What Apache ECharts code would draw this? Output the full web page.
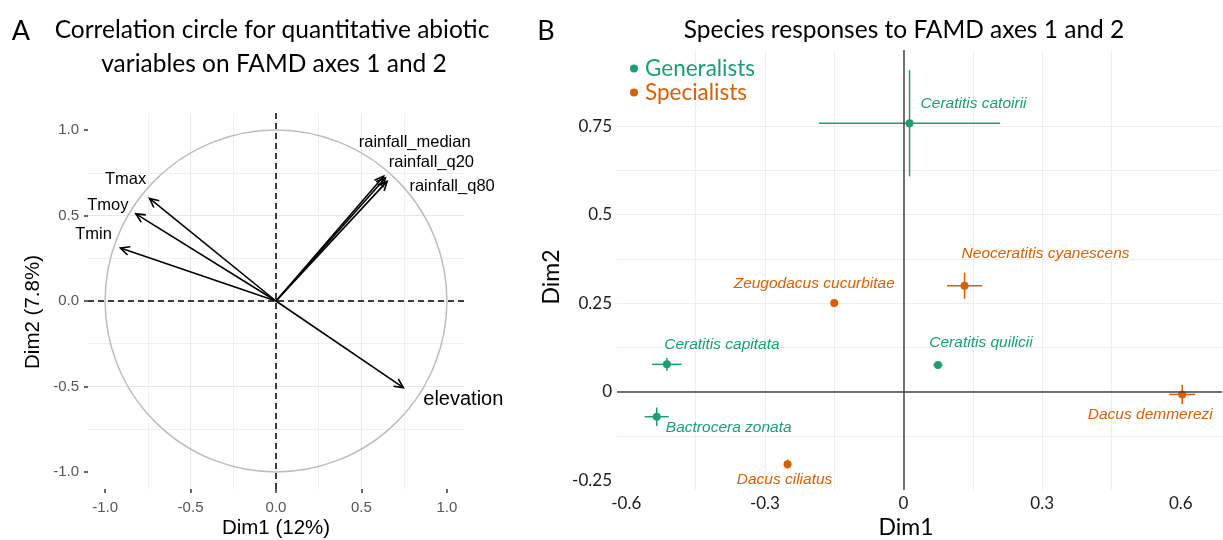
<!DOCTYPE html>
<html><head><meta charset="utf-8">
<script src="https://cdn.jsdelivr.net/npm/echarts@6/dist/echarts.min.js"></script>
<style>html,body{margin:0;padding:0;background:#fff}#c{width:1223px;height:540px}</style>
</head><body><div id="c"></div>
<script>
// ---------- Panel A: correlation circle ----------
const varNames = ['Tmax', 'Tmoy', 'Tmin', 'rainfall_median', 'rainfall_q20', 'rainfall_q80', 'elevation'];
const varDim1  = [-0.74, -0.82, -0.91, 0.63, 0.64, 0.65, 0.745];
const varDim2  = [0.60, 0.51, 0.31, 0.73, 0.72, 0.70, -0.507];
const ticksA   = [-1, -0.5, 0, 0.5, 1];

// ---------- Panel B: species responses ----------
const species = ['Ceratitis catoirii', 'Neoceratitis cyanescens', 'Zeugodacus cucurbitae', 'Ceratitis capitata',
                 'Bactrocera zonata', 'Dacus ciliatus', 'Ceratitis quilicii', 'Dacus demmerezi'];
const groups  = ['Generalists', 'Specialists', 'Specialists', 'Generalists',
                 'Generalists', 'Specialists', 'Generalists', 'Specialists'];
const dim1    = [0.013, 0.132, -0.150, -0.512, -0.534, -0.251, 0.0745, 0.603];
const dim2    = [0.758, 0.299, 0.250, 0.077, -0.071, -0.205, 0.075, -0.008];
const dim1Err = [0.196, 0.038, 0.004, 0.032, 0.026, 0.005, 0.010, 0.028];
const dim2Err = [0.150, 0.037, 0.004, 0.018, 0.026, 0.013, 0.003, 0.027];
const xTickLabelsB = [-0.6, -0.3, 0, 0.3, 0.6];
const yTickLabelsB = [-0.25, 0, 0.25, 0.5, 0.75];
const xGridB = [-0.6, -0.45, -0.3, -0.15, 0, 0.15, 0.3, 0.45, 0.6];
const yGridB = [-0.25, -0.125, 0, 0.125, 0.25, 0.375, 0.5, 0.625, 0.75, 0.875];

// ---------- styling / layout (not data) ----------
const GREEN = '#1b9e77', ORANGE = '#d95f02';
const groupColor = { Generalists: GREEN, Specialists: ORANGE };
const arrowLabelOffset = {
  Tmax: [-24, -19], Tmoy: [-28, -8], Tmin: [-27, -14],
  rainfall_median: [31, -34], rainfall_q20: [46, -15], rainfall_q80: [65, 5], elevation: [60, 12]
};
const arrowLabelSize = { elevation: 20 };
const speciesLabelOffset = {
  'Ceratitis catoirii': [64, -20], 'Neoceratitis cyanescens': [81, -32], 'Zeugodacus cucurbitae': [-20, -19],
  'Ceratitis capitata': [55, -20], 'Bactrocera zonata': [72, 11], 'Dacus ciliatus': [-3, 16],
  'Ceratitis quilicii': [43, -22], 'Dacus demmerezi': [-32, 20]
};
const TITLE_FONT = 'Lato, "Open Sans", sans-serif';
const ARIAL = '"Liberation Sans", Arial, sans-serif';

const chart = echarts.init(document.getElementById('c'), null, { renderer: 'canvas' });

function scatterData(g) {
  const out = [];
  species.forEach((s, i) => {
    if (groups[i] !== g) return;
    out.push({ name: s, value: [dim1[i], dim2[i]], label: { offset: speciesLabelOffset[s] } });
  });
  return out;
}

const axisA = (isX) => ({
  gridIndex: 0, type: 'value', min: -1.1, max: 1.1, splitNumber: 4,
  axisLine: { show: false, onZero: false },
  axisTick: { show: true, customValues: ticksA, length: 4, lineStyle: { color: '#333', width: 1.5 } },
  axisLabel: { customValues: ticksA, formatter: v => v.toFixed(1), color: '#555', fontSize: 15, fontFamily: ARIAL, margin: isX ? 11 : 9 },
  splitLine: { show: true, showMinLine: false, showMaxLine: false, lineStyle: { color: '#e6e6e6', width: 1 } },
  minorTick: { show: false, splitNumber: 2 },
  minorSplitLine: { show: true, lineStyle: { color: '#f0f0f0', width: 1 } }
});

const axisTitle = (text, x, y, size, font, rot) => ({
  type: 'text', x: x, y: y, rotation: rot || 0,
  style: { text: text, x: 0, y: 0, align: 'center', verticalAlign: 'middle', font: size + 'px ' + font, fill: '#000' }
});

const option = {
  animation: false,
  backgroundColor: '#fff',
  graphic: [
    { type: 'text', style: { text: 'A', x: 21, y: 31, align: 'center', verticalAlign: 'middle', font: '27px ' + TITLE_FONT, fill: '#000' } },
    { type: 'text', style: { text: 'Correlation circle for quantitative abiotic', x: 272, y: 30, align: 'center', verticalAlign: 'middle', font: '24.5px ' + TITLE_FONT, fill: '#000' } },
    { type: 'text', style: { text: 'variables on FAMD axes 1 and 2', x: 274, y: 64, align: 'center', verticalAlign: 'middle', font: '24.5px ' + TITLE_FONT, fill: '#000' } },
    { type: 'text', style: { text: 'B', x: 546, y: 31, align: 'center', verticalAlign: 'middle', font: '27px ' + TITLE_FONT, fill: '#000' } },
    { type: 'text', style: { text: 'Species responses to FAMD axes 1 and 2', x: 904, y: 30, align: 'center', verticalAlign: 'middle', font: '24.5px ' + TITLE_FONT, fill: '#000' } },
    axisTitle('Dim1 (12%)', 276, 528, 20.5, ARIAL),
    axisTitle('Dim2 (7.8%)', 33, 312, 20.5, ARIAL, Math.PI / 2),
    axisTitle('Dim1', 906, 528, 23, TITLE_FONT),
    axisTitle('Dim2', 552, 277, 23, TITLE_FONT, Math.PI / 2)
  ],
  legend: {
    data: [{ name: 'Generalists', textStyle: { color: GREEN } }, { name: 'Specialists', textStyle: { color: ORANGE } }],
    orient: 'vertical', left: 625, top: 52, icon: 'circle', itemWidth: 8, itemHeight: 8, itemGap: 1,
    textStyle: { fontSize: 22.5, fontFamily: TITLE_FONT, lineHeight: 21, padding: [0, 0, 0, 2] },
    selectedMode: false
  },
  grid: [
    { left: 88, top: 113, width: 376, height: 376 },
    { left: 617, top: 50, width: 605, height: 440 }
  ],
  xAxis: [
    axisA(true),
    {
      gridIndex: 1, type: 'value', min: -0.62, max: 0.689,
      axisLine: { show: false, onZero: false },
      axisTick: { show: false, customValues: xGridB },
      axisLabel: { customValues: xTickLabelsB, formatter: v => (v === 0 ? '0' : String(v)), color: '#1a1a1a', fontSize: 17, fontFamily: TITLE_FONT, margin: 5 },
      splitLine: { show: true, showMinLine: false, showMaxLine: false, lineStyle: { color: '#eeeeee', width: 1 } }
    }
  ],
  yAxis: [
    axisA(false),
    {
      gridIndex: 1, type: 'value', min: -0.278, max: 0.965,
      axisLine: { show: false, onZero: false },
      axisTick: { show: false, customValues: yGridB },
      axisLabel: { customValues: yTickLabelsB, formatter: v => (v === 0 ? '0' : String(v)), color: '#1a1a1a', fontSize: 17, fontFamily: TITLE_FONT, margin: 5 },
      splitLine: { show: true, showMinLine: false, showMaxLine: false, lineStyle: { color: '#eeeeee', width: 1 } }
    }
  ],
  series: [
    // unit circle + dashed zero lines
    {
      type: 'custom', xAxisIndex: 0, yAxisIndex: 0, silent: true, clip: false,
      data: [[0, 0, 1]],
      renderItem: (params, api) => {
        const c = api.coord([api.value(0), api.value(1)]);
        const r = api.size([api.value(2), 0])[0];
        return { type: 'circle', shape: { cx: c[0], cy: c[1], r: r }, style: { stroke: '#bdbdbd', fill: null, lineWidth: 1.5 } };
      },
      markLine: {
        silent: true, symbol: ['none', 'none'], label: { show: false },
        lineStyle: { color: '#000', type: [6, 4], width: 1.5 },
        data: [{ xAxis: 0 }, { yAxis: 0 }]
      }
    },
    // arrows
    {
      type: 'custom', xAxisIndex: 0, yAxisIndex: 0, silent: true, clip: false, z: 5,
      data: varNames.map((n, i) => ({ name: n, value: [varDim1[i], varDim2[i]] })),
      renderItem: (params, api) => {
        const name = varNames[params.dataIndex];
        const p0 = api.coord([0, 0]);
        const p1 = api.coord([api.value(0), api.value(1)]);
        const ang = Math.atan2(p1[1] - p0[1], p1[0] - p0[0]);
        const L = 10, a = Math.PI / 7;
        const h1 = [p1[0] - L * Math.cos(ang - a), p1[1] - L * Math.sin(ang - a)];
        const h2 = [p1[0] - L * Math.cos(ang + a), p1[1] - L * Math.sin(ang + a)];
        const off = arrowLabelOffset[name];
        const fs = arrowLabelSize[name] || 16.5;
        return {
          type: 'group', children: [
            { type: 'line', shape: { x1: p0[0], y1: p0[1], x2: p1[0], y2: p1[1] }, style: { stroke: '#000', lineWidth: 1.6 } },
            { type: 'polyline', shape: { points: [h1, p1, h2] }, style: { stroke: '#000', fill: null, lineWidth: 1.6 } },
            { type: 'text', style: { text: name, x: p1[0] + off[0], y: p1[1] + off[1], align: 'center', verticalAlign: 'middle', font: fs + 'px ' + ARIAL, fill: '#000' } }
          ]
        };
      }
    },
    // error bars
    {
      type: 'custom', xAxisIndex: 1, yAxisIndex: 1, silent: true, z: 3,
      data: species.map((s, i) => [dim1[i], dim2[i], dim1Err[i], dim2Err[i]]),
      renderItem: (params, api) => {
        const x = api.value(0), y = api.value(1), ex = api.value(2), ey = api.value(3);
        const col = groupColor[groups[params.dataIndex]];
        const a = api.coord([x - ex, y]), b = api.coord([x + ex, y]);
        const c = api.coord([x, y - ey]), d = api.coord([x, y + ey]);
        return {
          type: 'group', children: [
            { type: 'line', shape: { x1: a[0], y1: a[1], x2: b[0], y2: b[1] }, style: { stroke: col, lineWidth: 1.5 } },
            { type: 'line', shape: { x1: c[0], y1: c[1], x2: d[0], y2: d[1] }, style: { stroke: col, lineWidth: 1.5 } }
          ]
        };
      },
      markLine: {
        silent: true, symbol: ['none', 'none'], label: { show: false },
        lineStyle: { color: '#444', type: 'solid', width: 1.5 },
        data: [{ xAxis: 0 }, { yAxis: 0 }]
      }
    },
    ...['Generalists', 'Specialists'].map(g => ({
      name: g, type: 'scatter', xAxisIndex: 1, yAxisIndex: 1, z: 4,
      symbol: 'circle', symbolSize: 8,
      itemStyle: { color: groupColor[g], opacity: 1 },
      data: scatterData(g),
      label: {
        show: true, position: 'inside', formatter: p => p.name,
        color: groupColor[g], fontStyle: 'italic', fontSize: 15.5, fontFamily: ARIAL
      },
      emphasis: { disabled: true }
    }))
  ]
};
chart.setOption(option);
</script>
</body></html>
